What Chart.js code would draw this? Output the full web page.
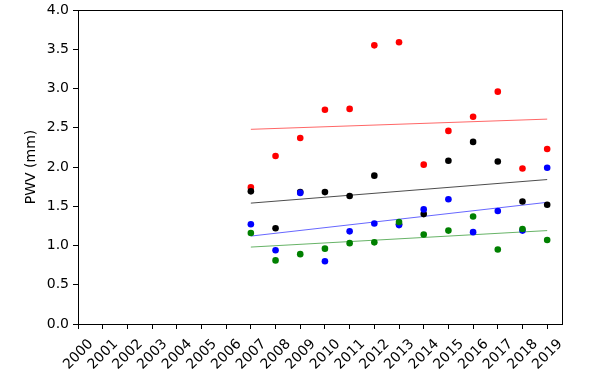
<!DOCTYPE html>
<html>
<head>
<meta charset="utf-8">
<script src="https://cdn.jsdelivr.net/npm/chart.js@4.4.1/dist/chart.umd.min.js"></script>
<style>
html,body{margin:0;padding:0;background:#fff;}
#wrap{width:592px;height:376px;}
</style>
</head>
<body>
<div id="wrap"><canvas id="c" width="592" height="376"></canvas></div>
<script>
const tickYears = [2000,2001,2002,2003,2004,2005,2006,2007,2008,2009,2010,2011,2012,2013,2014,2015,2016,2017,2018,2019];
const years = [2007,2008,2009,2010,2011,2012,2013,2014,2015,2016,2017,2018,2019];
const redVals   = [1.74,2.14,2.37,2.73,2.74,3.55,3.59,2.03,2.46,2.64,2.96,1.98,2.23];
const blackVals = [1.69,1.22,1.68,1.68,1.63,1.89,1.27,1.40,2.08,2.32,2.07,1.56,1.52];
const blueVals  = [1.27,0.94,1.67,0.80,1.18,1.28,1.26,1.46,1.59,1.17,1.44,1.19,1.99];
const greenVals = [1.16,0.81,0.89,0.96,1.03,1.04,1.30,1.14,1.19,1.37,0.95,1.21,1.07];
const trendYears = [2007,2019];
const redTrend   = [2.48,2.61];
const blackTrend = [1.54,1.84];
const blueTrend  = [1.12,1.55];
const greenTrend = [0.98,1.19];
const yTicks = [0,0.5,1.0,1.5,2.0,2.5,3.0,3.5,4.0];

function pts(xs, ys){ return xs.map((x,i)=>({x:x,y:ys[i]})); }
function scatter(vals,color,order){
  return {type:'scatter',data:pts(years,vals),backgroundColor:color,borderColor:color,
    pointRadius:3.3,pointBorderWidth:0,pointHoverRadius:3.3,order:order,showLine:false};
}
function trend(vals,color,order){
  return {type:'line',data:pts(trendYears,vals),borderColor:color,borderWidth:1,
    pointRadius:0,fill:false,order:order,tension:0};
}

const boxPlugin = {
  id:'box',
  afterDraw(chart){
    const a = chart.chartArea, ctx = chart.ctx;
    ctx.save();
    ctx.strokeStyle = '#000';
    ctx.lineWidth = 1;
    ctx.strokeRect(Math.round(a.left)+0.5, Math.round(a.top)+0.5, Math.round(a.right-a.left), Math.round(a.bottom-a.top));
    ctx.restore();
  }
};

const FONT = {family:'"DejaVu Sans"', size:14};
new Chart(document.getElementById('c'), {
  data:{datasets:[
    trend(redTrend,'rgba(255,0,0,0.6)',10),
    trend(blackTrend,'rgba(0,0,0,0.7)',9),
    trend(blueTrend,'rgba(0,0,255,0.6)',8),
    trend(greenTrend,'rgba(0,128,0,0.6)',7),
    scatter(redVals,'#ff0000',6),
    scatter(blackVals,'#000000',5),
    scatter(blueVals,'#0000ff',4),
    scatter(greenVals,'#008000',3)
  ]},
  options:{
    responsive:false,
    animation:false,
    events:[],
    layout:{padding:{left:19,top:10,right:30,bottom:0}},
    plugins:{legend:{display:false},tooltip:{enabled:false}},
    scales:{
      x:{type:'linear',min:2000,max:2019.6,
        afterBuildTicks(s){ s.ticks = tickYears.map(v=>({value:v})); },
        afterFit(s){ s.height = 52; s.paddingLeft = 0; s.paddingRight = 0; },
        grid:{display:true,drawOnChartArea:false,tickLength:5,tickColor:'#000',lineWidth:1},
        border:{display:true,color:'#000',width:1},
        ticks:{color:'#000',font:FONT,minRotation:45,maxRotation:45,autoSkip:false,padding:7,labelOffset:13,
          callback:(v)=>String(v)}
      },
      y:{type:'linear',min:0,max:4,
        afterBuildTicks(s){ s.ticks = yTicks.map(v=>({value:v})); },
        afterFit(s){ s.width = 59; s.paddingTop = 0; s.paddingBottom = 0; },
        grid:{display:true,drawOnChartArea:false,tickLength:5,tickColor:'#000',lineWidth:1},
        border:{display:true,color:'#000',width:1},
        title:{display:true,text:'PWV (mm)',color:'#000',font:FONT,padding:{top:4,bottom:4}},
        ticks:{color:'#000',font:FONT,padding:4,callback:(v)=>Number(v).toFixed(1)}
      }
    }
  },
  plugins:[boxPlugin]
});
</script>
</body>
</html>
